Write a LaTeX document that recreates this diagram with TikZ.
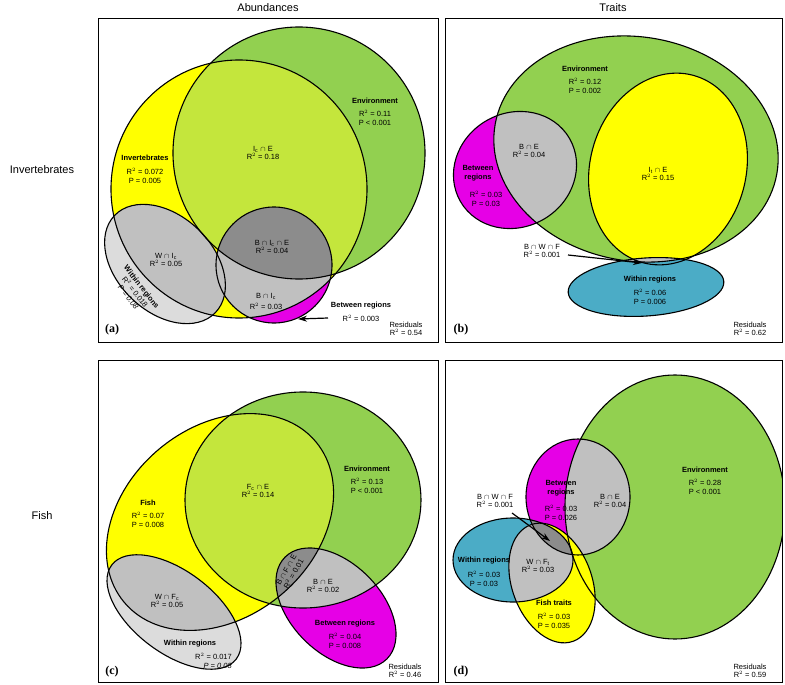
\documentclass[tikz,border=0pt]{standalone}
\usepackage{fontspec}
\setmainfont{Liberation Sans}
\newfontfamily\serifb{Liberation Serif}
\definecolor{cE}{HTML}{92D050}
\definecolor{cY}{HTML}{FFFF00}
\definecolor{cYG}{HTML}{C4E63C}
\definecolor{cM}{HTML}{E600E6}
\definecolor{cB}{HTML}{4BACC6}
\definecolor{cG}{HTML}{C0C0C0}
\definecolor{cDG}{HTML}{8C8C8C}
\definecolor{cLG}{HTML}{DCDCDC}
\tikzset{
 aE/.style={insert path={(299,153) ellipse [x radius=126,y radius=126]}},
 aI/.style={insert path={(239,189) ellipse [x radius=128,y radius=129]}},
 aW/.style={insert path={(165,264) ellipse [x radius=70,y radius=48,rotate=-44]}},
 aB/.style={insert path={(274,265) ellipse [x radius=58,y radius=58]}},
 bE/.style={insert path={(636,149) ellipse [x radius=143,y radius=112,rotate=-10]}},
 bM/.style={insert path={(515,170) ellipse [x radius=63,y radius=57,rotate=30]}},
 bY/.style={insert path={(668,169) ellipse [x radius=97,y radius=78,rotate=75]}},
 bW/.style={insert path={(646,287) ellipse [x radius=78,y radius=29,rotate=4]}},
 cEn/.style={insert path={(303,500) ellipse [x radius=118,y radius=108]}},
 cF/.style={insert path={(220,522) ellipse [x radius=125,y radius=95,rotate=40]}},
 cW/.style={insert path={(174,612) ellipse [x radius=78,y radius=41,rotate=-37]}},
 cBr/.style={insert path={(336,608) ellipse [x radius=72,y radius=45,rotate=-45]}},
 dE/.style={insert path={(675,507) ellipse [x radius=110,y radius=132]}},
 dM/.style={insert path={(578,497) ellipse [x radius=52,y radius=58]}},
 dY/.style={insert path={(552,583) ellipse [x radius=40,y radius=62,rotate=20]}},
 dW/.style={insert path={(513,560) ellipse [x radius=60,y radius=42]}},
 ol/.style={draw=black,line width=1.1pt},
 t/.style={font=\fontsize{7.5}{8.5}\selectfont,align=center,inner sep=0pt},
 tb/.style={t,font=\fontsize{7.5}{8.5}\selectfont\bfseries},
 head/.style={font=\fontsize{11}{13}\selectfont,inner sep=0pt},
 lab/.style={font=\fontsize{12}{14}\selectfont\serifb\bfseries,inner sep=0pt},
 frame/.style={draw=black,line width=0.8pt},
 arr/.style={-{Stealth[length=9pt,width=6pt]},line width=1.2pt}
}
\usetikzlibrary{arrows.meta}
\begin{document}
\begin{tikzpicture}[x=1pt,y=-1pt]
\useasboundingbox (0,0) rectangle (785,685);
\node[head] (h1) at (268,8) {Abundances};
\node[head] (h2) at (613,8) {Traits};
\node[head] (h3) at (42,170) {Invertebrates};
\node[head] (h4) at (42,516) {Fish};
% ---------- panel a
\begin{scope}
\clip (98,18) rectangle (438,342);
\fill[cE,aE]; \fill[cY,aI];
\begin{scope}\clip[aI]; \fill[cYG,aE];\end{scope}
\fill[cLG,aW];
\begin{scope}\clip[aW]; \fill[cG,aI];\end{scope}
\fill[cM,aB];
\begin{scope}\clip[aB]; \fill[cG,aI]; \fill[cG,aE];\end{scope}
\begin{scope}\clip[aB]; \clip[aI]; \fill[cDG,aE];\end{scope}
\path[ol,aE]; \path[ol,aI]; \path[ol,aW]; \path[ol,aB];
\end{scope}
\node[frame,minimum width=340,minimum height=324,anchor=north west] (fa) at (98,18) {};
\node[tb] (a1) at (375,101) {Environment};
\node[t] (a2) at (375,118) {R$^2$ = 0.11\\P < 0.001};
\node[t] (a3) at (263,153) {I$_\mathrm{c}$ $\cap$ E\\R$^2$ = 0.18};
\node[tb] (a4) at (145,158) {Invertebrates};
\node[t] (a5) at (145,176) {R$^2$ = 0.072\\P = 0.005};
\node[t] (a6) at (166,260) {W $\cap$ I$_\mathrm{c}$\\R$^2$ = 0.05};
\node[t] (a7) at (272,247) {B $\cap$ I$_\mathrm{c}$ $\cap$ E\\R$^2$ = 0.04};
\node[t] (a8) at (266,296) {B $\cap$ I$_\mathrm{c}$};
\node[t] (a8b) at (266,306) {R$^2$ = 0.03};
\node[t,rotate=-52] (a9) at (135,292) {\textbf{Within regions}\\R$^2$ = 0.018\\\textit{P = 0.08}};
\node[tb] (a10) at (361,306) {Between regions};
\node[t] (a11) at (361,318) {R$^2$ = 0.003};
\coordinate (a12) at (298,319);
\draw[arr] (328,318) -- (a12);
\node[lab] (a13) at (112,330) {(a)};
\node[t] (a14) at (406,329) {Residuals\\R$^2$ = 0.54};
% ---------- panel b
\begin{scope}
\clip (445,18) rectangle (782,342);
\fill[cE,bE]; \fill[cM,bM];
\begin{scope}\clip[bM]; \fill[cG,bE];\end{scope}
\fill[cY,bY]; \fill[cB,bW];
\begin{scope}\clip[bW]; \fill[cG,bE];\end{scope}
\path[ol,bE]; \path[ol,bM]; \path[ol,bY]; \path[ol,bW];
\end{scope}
\node[frame,minimum width=337,minimum height=324,anchor=north west] (fb) at (445,18) {};
\node[tb] (b1) at (585,69) {Environment};
\node[t] (b2) at (585,86) {R$^2$ = 0.12\\P = 0.002};
\node[t] (b3) at (529,151) {B $\cap$ E\\R$^2$ = 0.04};
\node[tb] (b4) at (478,173) {Between\\regions};
\node[t] (b5) at (486,199) {R$^2$ = 0.03\\P = 0.03};
\node[t] (b6) at (658,174) {I$_\mathrm{t}$ $\cap$ E\\R$^2$ = 0.15};
\node[t] (b7) at (542,251) {B $\cap$ W $\cap$ F\\R$^2$ = 0.001};
\coordinate (b8) at (642,263);
\draw[arr] (568,255) -- (b8);
\node[tb] (b9) at (650,280) {Within regions};
\node[t] (b10) at (650,297) {R$^2$ = 0.06\\P = 0.006};
\node[lab] (b11) at (461,330) {(b)};
\node[t] (b12) at (750,329) {Residuals\\R$^2$ = 0.62};
% ---------- panel c
\begin{scope}
\clip (98,360) rectangle (438,682);
\fill[cE,cEn]; \fill[cY,cF];
\begin{scope}\clip[cF]; \fill[cYG,cEn];\end{scope}
\fill[cLG,cW];
\begin{scope}\clip[cW]; \fill[cG,cF];\end{scope}
\fill[cM,cBr];
\begin{scope}\clip[cBr]; \fill[cG,cF]; \fill[cG,cEn];\end{scope}
\begin{scope}\clip[cBr]; \clip[cF]; \fill[cDG,cEn];\end{scope}
\path[ol,cEn]; \path[ol,cF]; \path[ol,cW]; \path[ol,cBr];
\end{scope}
\node[frame,minimum width=340,minimum height=322,anchor=north west] (fc) at (98,360) {};
\node[tb] (c1) at (148,503) {Fish};
\node[t] (c2) at (148,520) {R$^2$ = 0.07\\P = 0.008};
\node[t] (c3) at (258,491) {F$_\mathrm{c}$ $\cap$ E\\R$^2$ = 0.14};
\node[tb] (c4) at (367,469) {Environment};
\node[t] (c5) at (367,486) {R$^2$ = 0.13\\P < 0.001};
\node[t] (c6) at (167,601) {W $\cap$ F$_\mathrm{c}$\\R$^2$ = 0.05};
\node[tb] (c7) at (190,644) {Within regions};
\node[t,align=right,anchor=east] (c8) at (232,661) {R$^2$ = 0.017\\\textit{P = 0.08}};
\node[t,rotate=60] (c9) at (290,572) {B $\cap$ F $\cap$ E\\R$^2$ = 0.01};
\node[t] (c10) at (323,586) {B $\cap$ E\\R$^2$ = 0.02};
\node[tb] (c11) at (345,624) {Between regions};
\node[t] (c12) at (345,641) {R$^2$ = 0.04\\P = 0.008};
\node[lab] (c13) at (112,672) {(c)};
\node[t] (c14) at (405,671) {Residuals\\R$^2$ = 0.46};
% ---------- panel d
\begin{scope}
\clip (445,360) rectangle (782,682);
\fill[cE,dE]; \fill[cM,dM];
\begin{scope}\clip[dM]; \fill[cG,dE];\end{scope}
\fill[cY,dY]; \fill[cB,dW];
\begin{scope}\clip[dW]; \fill[cG,dY];\end{scope}
\begin{scope}\clip[dW]; \fill[cDG,dM];\end{scope}
\path[ol,dE]; \path[ol,dM]; \path[ol,dY]; \path[ol,dW];
\end{scope}
\node[frame,minimum width=337,minimum height=322,anchor=north west] (fd) at (445,360) {};
\node[tb] (d1) at (705,470) {Environment};
\node[t] (d2) at (705,487) {R$^2$ = 0.28\\P < 0.001};
\node[t] (d3) at (610,501) {B $\cap$ E\\R$^2$ = 0.04};
\node[tb] (d4) at (561,488) {Between\\regions};
\node[t] (d5) at (561,513) {R$^2$ = 0.03\\P = 0.026};
\node[t] (d6) at (495,501) {B $\cap$ W $\cap$ F\\R$^2$ = 0.001};
\coordinate (d7) at (550,541);
\draw[arr] (512,513) -- (d7);
\node[tb] (d8) at (484,561) {Within regions};
\node[t] (d9) at (484,579) {R$^2$ = 0.03\\P = 0.03};
\node[t] (d10) at (538,566) {W $\cap$ F$_\mathrm{t}$\\R$^2$ = 0.03};
\node[tb] (d11) at (554,603) {Fish traits};
\node[t] (d12) at (554,621) {R$^2$ = 0.03\\P = 0.035};
\node[lab] (d13) at (461,672) {(d)};
\node[t] (d14) at (750,671) {Residuals\\R$^2$ = 0.59};
\end{tikzpicture}
\end{document}
